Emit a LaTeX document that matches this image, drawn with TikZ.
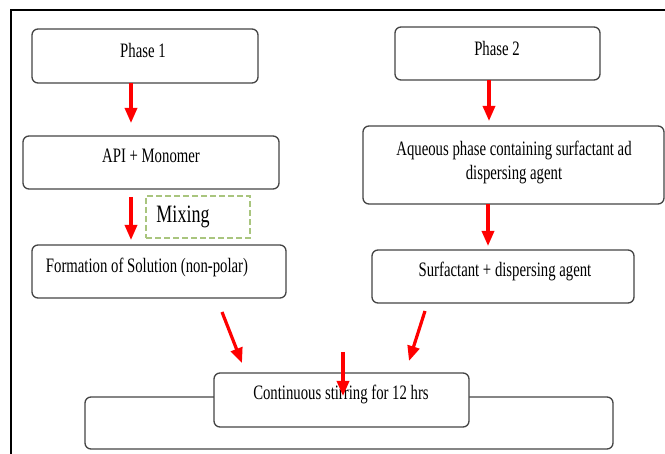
\documentclass[tikz,border=0pt]{standalone}
\usepackage{fontspec}
\setmainfont{Liberation Serif}[FakeStretch=0.72]
\usetikzlibrary{arrows.meta}
\definecolor{boxline}{HTML}{444444}
\definecolor{mixgreen}{HTML}{A9C57E}
\tikzset{
  stepbox/.style={draw=boxline, line width=1.3pt, rounded corners=6pt, fill=white, inner sep=0pt},
  lbl/.style={font=\fontsize{20.5}{24}\selectfont, inner sep=0pt, align=center},
  redarrow/.style={draw=red, line width=3.2pt, -{Triangle[width=12pt,length=15pt]}},
  mixbox/.style={draw=mixgreen, line width=1.6pt, dash pattern=on 6pt off 3pt, inner sep=0pt},
  frameline/.style={draw=black, line width=2pt}
}
\begin{document}
\begin{tikzpicture}[x=1pt,y=-1pt]
\useasboundingbox (0,0) rectangle (665,454);
% frame
\coordinate (fbl) at (11,455);
\coordinate (ftl) at (11,10);
\coordinate (ftr) at (666,10);
\draw[frameline] (fbl) -- (ftl) -- (ftr);

% boxes
\node[stepbox, minimum width=226pt, minimum height=54pt] (p1) at (145,56) {};
\node[stepbox, minimum width=205pt, minimum height=53pt] (p2) at (497.5,53.5) {};
\node[stepbox, minimum width=256pt, minimum height=53pt] (api) at (151,162.5) {};
\node[stepbox, minimum width=301pt, minimum height=78pt] (aq) at (513.5,165) {};
\node[mixbox, minimum width=104pt, minimum height=42pt] (mix) at (198,217) {};
\node[stepbox, minimum width=254pt, minimum height=53pt] (form) at (159,271.5) {};
\node[stepbox, minimum width=262pt, minimum height=53pt] (surf) at (503,276.5) {};
\node[stepbox, minimum width=528pt, minimum height=52pt] (big) at (349,423) {};
\node[stepbox, minimum width=255pt, minimum height=54pt] (cont) at (341.5,400) {};

% texts
\node[lbl] (p1t) at (143,50) {Phase 1};
\node[lbl] (p2t) at (497,48) {Phase 2};
\node[lbl] (apit) at (151,156) {API + Monomer};
\node[lbl] (aqt) at (514,162) {Aqueous phase containing surfactant ad\\[0pt]dispersing agent};
\node[lbl, font=\fontsize{25}{29}\selectfont] (mixt) at (183,217) {Mixing};
\node[lbl] (formt) at (147,267) {Formation of Solution (non-polar)};
\node[lbl] (surft) at (505,271) {Surfactant + dispersing agent};
\node[lbl] (contt) at (341,394) {Continuous stirring for 12 hrs};

% arrow end points
\coordinate (a1s) at (131,83);
\coordinate (a1e) at (131,123);
\coordinate (a2s) at (489,80);
\coordinate (a2e) at (489,121);
\coordinate (a3s) at (131,197);
\coordinate (a3e) at (131,240);
\coordinate (a4s) at (488,204);
\coordinate (a4e) at (488,246);
\coordinate (a5s) at (222,312);
\coordinate (a5e) at (242,363);
\coordinate (a6s) at (425,311);
\coordinate (a6e) at (409,361);
\coordinate (a7s) at (343,352);
\coordinate (a7e) at (343,396);

\draw[redarrow] (a1s) -- (a1e);
\draw[redarrow] (a2s) -- (a2e);
\draw[redarrow] (a3s) -- (a3e);
\draw[redarrow] (a4s) -- (a4e);
\draw[redarrow] (a5s) -- (a5e);
\draw[redarrow] (a6s) -- (a6e);
\draw[redarrow] (a7s) -- (a7e);
\end{tikzpicture}
\end{document}
